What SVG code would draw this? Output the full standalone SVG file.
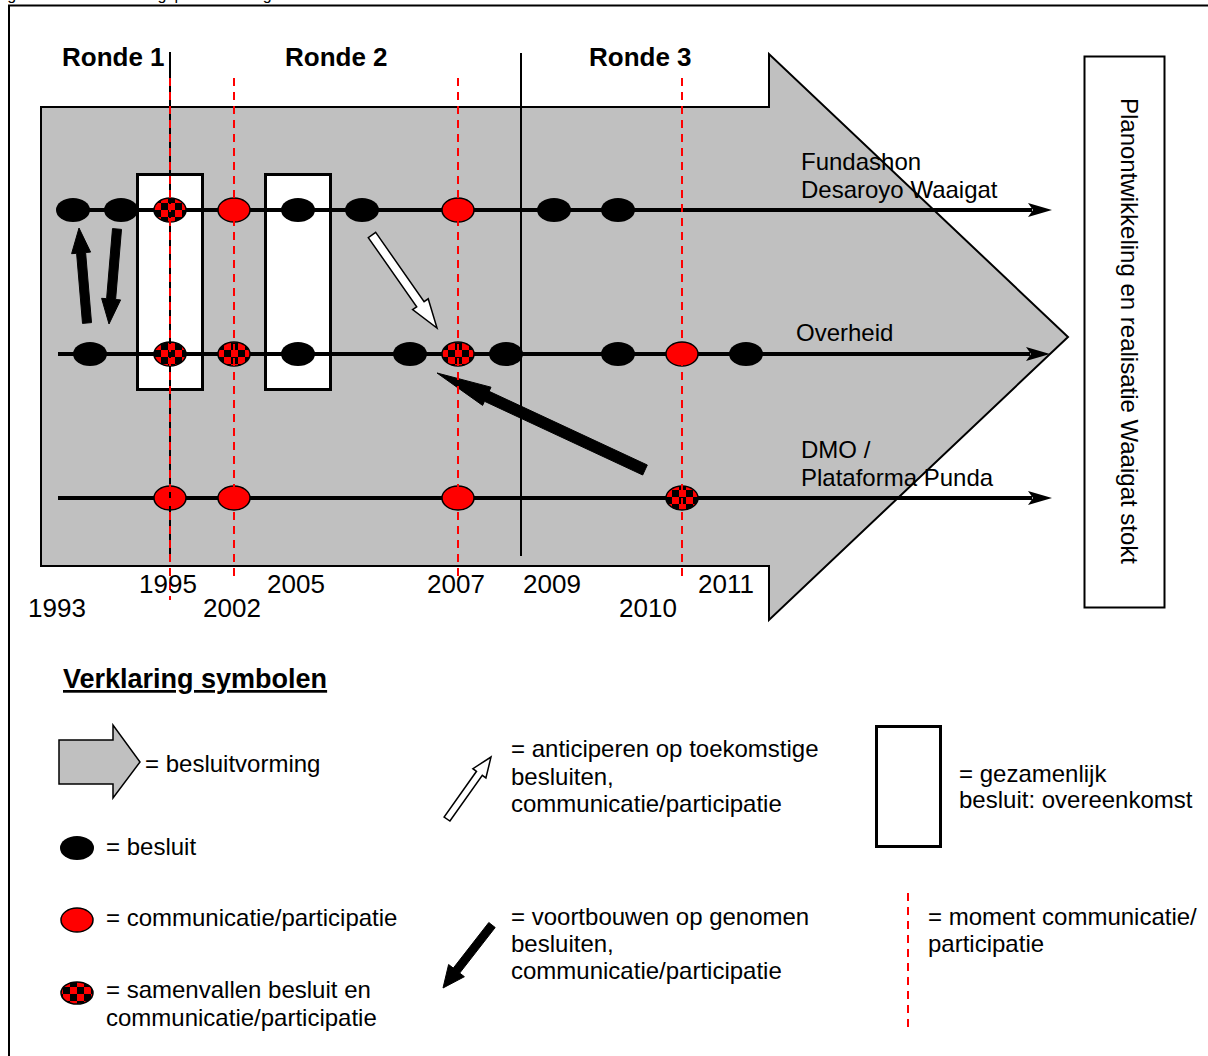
<svg xmlns="http://www.w3.org/2000/svg" width="1208" height="1056" viewBox="0 0 1208 1056">
  <style>
    .t { font-family: "Liberation Sans", Arial, sans-serif; font-size: 24px; fill: #000; }
    .yr { font-family: "Liberation Sans", Arial, sans-serif; font-size: 26px; fill: #000; }
    .b { font-family: "Liberation Sans", Arial, sans-serif; font-size: 26px; font-weight: bold; fill: #000; }
    .dec { fill: #000; stroke: none; }
    .com { fill: #ff0000; stroke: #000; stroke-width: 1.5; }
    .mix { fill: url(#checker); stroke: #000; stroke-width: 1.5; }
    .agree { fill: #fff; stroke: #000; stroke-width: 3; }
    .track { stroke: #000; stroke-width: 4; fill: none; marker-end: url(#head); }
    .round { stroke: #000; stroke-width: 2; }
    .moment { stroke: #ff0000; stroke-width: 2; stroke-dasharray: 8 6; }
    .solid { fill: #000; stroke: #000; stroke-width: 1; stroke-linejoin: miter; }
    .hollow { fill: #fff; stroke: #000; stroke-width: 1.5; stroke-linejoin: miter; }
  </style>
  <defs>
    <pattern id="checker" patternUnits="userSpaceOnUse" width="14" height="14">
      <rect width="14" height="14" fill="#ff0000"/>
      <rect width="7" height="7" fill="#000"/>
      <rect x="7" y="7" width="7" height="7" fill="#000"/>
    </pattern>
    <marker id="head" markerUnits="userSpaceOnUse" viewBox="0 -8 26 16" refX="4" refY="0" markerWidth="26" markerHeight="16" orient="auto">
      <path d="M24,0 L0,-7 L5,0 L0,7 Z" fill="#000"/>
    </marker>
  </defs>

  <rect width="1208" height="1056" fill="#fff"/>
  <!-- caption line, cut by the frame edge -->
  <text class="t" x="-6" y="0" style="font-size:16px">Figuur 4: Besluitvormingsproces Waaigat stokt</text>
  <!-- outer frame -->
  <rect x="9" y="5.5" width="1220" height="1070" fill="none" stroke="#000" stroke-width="2"/>

  <!-- decision process arrow -->
  <g id="process">
    <polygon points="41,107 769,107 769,54 1068,337 769,620 769,566 41,566" fill="#c0c0c0" stroke="#000" stroke-width="2"/>
  </g>

  <!-- joint agreements -->
  <g id="agreement-1995"><rect class="agree" x="137.5" y="174.5" width="65" height="215"/></g>
  <g id="agreement-2005"><rect class="agree" x="265.5" y="174.5" width="65" height="215"/></g>

  <!-- outcome box -->
  <g id="outcome">
    <rect x="1084.5" y="56.5" width="80" height="551" fill="#fff" stroke="#000" stroke-width="2"/>
    <text class="t" transform="translate(1121,331) rotate(90)" text-anchor="middle">Planontwikkeling en realisatie Waaigat stokt</text>
  </g>

  <!-- round labels -->
  <g id="rounds">
    <text class="b" x="62" y="66">Ronde 1</text>
    <text class="b" x="285" y="66">Ronde 2</text>
    <text class="b" x="589" y="66">Ronde 3</text>
  </g>

  <!-- actor tracks -->
  <g id="connectors">
    <line class="track" x1="58" y1="210" x2="1032" y2="210"/>
    <line class="track" x1="58" y1="354" x2="1030" y2="354"/>
    <line class="track" x1="58" y1="498" x2="1032" y2="498"/>
    <!-- exchange between foundation and government -->
    <polygon class="solid" points="91.5,322.6 85.6,252.5 90.6,252.1 79,228 71.6,253.7 76.6,253.3 82.5,323.4"/>
    <polygon class="solid" points="121.5,229.4 115.6,299.5 120.6,299.9 109,324 101.6,298.3 106.6,298.7 112.5,228.6"/>
    <!-- anticipating -->
    <polygon class="hollow" points="375.7,232.4 424.1,301.6 428.2,298.8 437,328 412.6,309.6 416.7,306.8 368.3,237.6"/>
    <!-- building on -->
    <polygon class="solid" points="647.3,465 489.1,391.3 491,387.2 437,373 482.6,405.4 484.5,401.3 642.7,475"/>
  </g>

  <!-- actor labels -->
  <g id="actor-fundashon">
    <text class="t" x="801" y="170">Fundashon</text>
    <text class="t" x="801" y="198">Desaroyo Waaigat</text>
  </g>
  <g id="actor-overheid">
    <text class="t" x="796" y="341">Overheid</text>
  </g>
  <g id="actor-dmo">
    <text class="t" x="801" y="458">DMO /</text>
    <text class="t" x="801" y="486">Plataforma Punda</text>
  </g>

  <!-- events: Fundashon Desaroyo Waaigat -->
  <g id="events-fundashon">
    <ellipse class="dec" cx="73" cy="210" rx="17" ry="12"/>
    <ellipse class="dec" cx="121" cy="210" rx="17" ry="12"/>
    <ellipse class="mix" cx="170" cy="210" rx="16" ry="12"/>
    <ellipse class="com" cx="234" cy="210" rx="16" ry="12"/>
    <ellipse class="dec" cx="298" cy="210" rx="17" ry="12"/>
    <ellipse class="dec" cx="362" cy="210" rx="17" ry="12"/>
    <ellipse class="com" cx="458" cy="210" rx="16" ry="12"/>
    <ellipse class="dec" cx="554" cy="210" rx="17" ry="12"/>
    <ellipse class="dec" cx="618" cy="210" rx="17" ry="12"/>
  </g>
  <!-- events: Overheid -->
  <g id="events-overheid">
    <ellipse class="dec" cx="90" cy="354" rx="17" ry="12"/>
    <ellipse class="mix" cx="170" cy="354" rx="16" ry="12"/>
    <ellipse class="mix" cx="234" cy="354" rx="16" ry="12"/>
    <ellipse class="dec" cx="298" cy="354" rx="17" ry="12"/>
    <ellipse class="dec" cx="410" cy="354" rx="17" ry="12"/>
    <ellipse class="mix" cx="458" cy="354" rx="16" ry="12"/>
    <ellipse class="dec" cx="506" cy="354" rx="17" ry="12"/>
    <ellipse class="dec" cx="618" cy="354" rx="17" ry="12"/>
    <ellipse class="com" cx="682" cy="354" rx="16" ry="12"/>
    <ellipse class="dec" cx="746" cy="354" rx="17" ry="12"/>
  </g>
  <!-- events: DMO / Plataforma Punda -->
  <g id="events-dmo">
    <ellipse class="com" cx="170" cy="498" rx="16" ry="12"/>
    <ellipse class="com" cx="234" cy="498" rx="16" ry="12"/>
    <ellipse class="com" cx="458" cy="498" rx="16" ry="12"/>
    <ellipse class="mix" cx="682" cy="498" rx="16" ry="12"/>
  </g>

  <!-- round boundaries and participation moments -->
  <g id="timeline-marks">
    <line class="round" x1="170" y1="52" x2="170" y2="556"/>
    <line class="round" x1="521" y1="53" x2="521" y2="556"/>
    <line class="moment" x1="170" y1="78" x2="170" y2="600"/>
    <line class="moment" x1="234" y1="78" x2="234" y2="580"/>
    <line class="moment" x1="458" y1="78" x2="458" y2="580"/>
    <line class="moment" x1="682" y1="78" x2="682" y2="580"/>
  </g>

  <!-- years -->
  <g id="years">
    <text class="yr" x="28" y="617">1993</text>
    <text class="yr" x="139" y="593">1995</text>
    <text class="yr" x="203" y="617">2002</text>
    <text class="yr" x="267" y="593">2005</text>
    <text class="yr" x="427" y="593">2007</text>
    <text class="yr" x="523" y="593">2009</text>
    <text class="yr" x="619" y="617">2010</text>
    <text class="yr" x="698" y="593">2011</text>
  </g>

  <!-- key -->
  <g id="legend">
    <text class="b" x="63" y="688" style="font-size:27px" text-decoration="underline">Verklaring symbolen</text>

    <g id="legend-process">
      <polygon points="59,740 113,740 113,725 140,762 113,798 113,784 59,784" fill="#c0c0c0" stroke="#000" stroke-width="1.5"/>
      <text class="t" x="145" y="772">= besluitvorming</text>
    </g>
    <g id="legend-decision">
      <ellipse class="dec" cx="77" cy="848" rx="17" ry="12"/>
      <text class="t" x="106" y="855">= besluit</text>
    </g>
    <g id="legend-communication">
      <ellipse class="com" cx="77" cy="920" rx="16" ry="12"/>
      <text class="t" x="106" y="926">= communicatie/participatie</text>
    </g>
    <g id="legend-combined">
      <ellipse class="mix" cx="77" cy="993" rx="16" ry="11"/>
      <text class="t" x="106" y="998">= samenvallen besluit en</text>
      <text class="t" x="106" y="1026">communicatie/participatie</text>
    </g>

    <g id="legend-anticipate">
      <polygon class="hollow" points="449.9,821 482.3,775.3 485.9,777.9 491,757 472.9,768.7 476.5,771.3 444.1,817"/>
      <text class="t" x="511" y="757">= anticiperen op toekomstige</text>
      <text class="t" x="511" y="785">besluiten,</text>
      <text class="t" x="511" y="812">communicatie/participatie</text>
    </g>
    <g id="legend-build">
      <polygon class="solid" points="495.2,927.5 459.7,973.1 464.4,976.7 443,988 448.6,964.5 453.3,968.1 488.8,922.5"/>
      <text class="t" x="511" y="925">= voortbouwen op genomen</text>
      <text class="t" x="511" y="952">besluiten,</text>
      <text class="t" x="511" y="979">communicatie/participatie</text>
    </g>

    <g id="legend-agreement">
      <rect class="agree" x="876.5" y="726.5" width="64" height="120"/>
      <text class="t" x="959" y="782">= gezamenlijk</text>
      <text class="t" x="959" y="808">besluit: overeenkomst</text>
    </g>
    <g id="legend-moment">
      <line class="moment" x1="908" y1="893" x2="908" y2="1027"/>
      <text class="t" x="928" y="925">= moment communicatie/</text>
      <text class="t" x="928" y="952">participatie</text>
    </g>
  </g>
</svg>
